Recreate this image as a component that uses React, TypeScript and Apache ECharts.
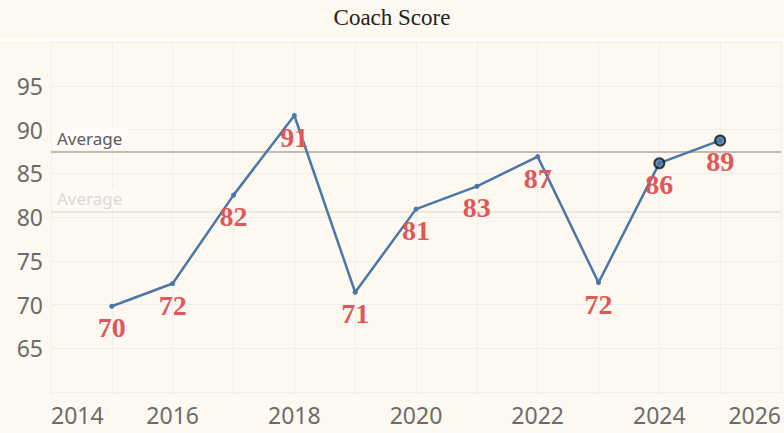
import React, { useEffect, useRef } from "react";
import * as echarts from "echarts";

const years = [2015, 2016, 2017, 2018, 2019, 2020, 2021, 2022, 2023, 2024, 2025];
const scores = [69.8, 72.4, 82.5, 91.6, 71.4, 80.9, 83.5, 86.9, 72.5, 86.15, 88.75];
const scoreLabels = ["70", "72", "82", "91", "71", "81", "83", "87", "72", "86", "89"];
const highlightYears = [2024, 2025];
const highlightScores = [86.15, 88.75];
const title = "Coach Score";

const BG = "#fdf9f1";
const GRID = "#eeeeec";

export default function App() {
  const ref = useRef<HTMLDivElement>(null);
  useEffect(() => {
    if (!ref.current) return;
    const chart = echarts.init(ref.current, null, { renderer: "svg" });
    const mainData = years.map((y, i) => [y, scores[i]]);
    const hiData = highlightYears.map((y, i) => [y, highlightScores[i]]);
    chart.setOption({
      animation: false,
      backgroundColor: BG,
      title: {
        text: title,
        left: "center",
        top: 1,
        textStyle: {
          fontFamily: "Liberation Serif, serif",
          fontWeight: "normal",
          fontSize: 23,
          color: "#222",
        },
      },
      graphic: [
        { type: "rect", shape: { x: 0, y: 38, width: 784, height: 3 }, style: { fill: "#ffffff" }, silent: true },
      ],
      grid: { left: 51, right: 0, top: 42, bottom: 41 },
      xAxis: {
        type: "value",
        min: 2014,
        max: 2026,
        interval: 2,
        axisLine: { show: false },
        axisTick: { show: true, length: 3, lineStyle: { color: GRID } },
        minorTick: { show: true, splitNumber: 2, length: 3, lineStyle: { color: GRID } },
        splitLine: { show: true, lineStyle: { color: GRID, width: 1 } },
        minorSplitLine: { show: true, lineStyle: { color: GRID, width: 1 } },
        axisLabel: {
          formatter: (v: number) => String(v),
          fontFamily: "Noto Sans, sans-serif",
          fontSize: 23,
          color: "#6b6b6b",
          margin: 11,
          alignMinLabel: "left",
          alignMaxLabel: "right",
        },
      },
      yAxis: {
        type: "value",
        min: 60,
        max: 100,
        interval: 5,
        axisLine: { show: false },
        axisTick: { show: false },
        splitLine: { show: true, lineStyle: { color: GRID, width: 1 } },
        axisLabel: {
          showMinLabel: false,
          showMaxLabel: false,
          fontFamily: "Noto Sans, sans-serif",
          fontSize: 23,
          color: "#6b6b6b",
          margin: 8,
        },
      },
      series: [
        {
          type: "line",
          data: mainData,
          symbol: "circle",
          symbolSize: 5,
          z: 3,
          lineStyle: { color: "#4a77a8", width: 2.5 },
          itemStyle: { color: "#4a77a8" },
          label: {
            show: true,
            position: "bottom",
            distance: 5,
            formatter: (p: any) => scoreLabels[p.dataIndex],
            fontFamily: "Liberation Serif, serif",
            fontWeight: "bold",
            fontSize: 28,
            color: "#e05759",
          },
          markLine: {
            silent: true,
            symbol: "none",
            z: 1,
            data: [{ type: "average", name: "Average", valueDim: "y" }],
            lineStyle: { color: "#ebe7df", width: 2, type: "solid" },
            label: {
              position: "insideStartTop",
              formatter: "Average",
              fontFamily: "Noto Sans, sans-serif",
              fontSize: 17,
              color: "#dcd8d1",
              backgroundColor: "#fdfaf5",
              padding: [1, 5, 1, 5],
              distance: [1, 4],
            },
          },
        },
        {
          type: "scatter",
          data: hiData,
          symbol: "circle",
          symbolSize: 10,
          z: 4,
          itemStyle: { color: "#4a77a8", borderColor: "#111", borderWidth: 2 },
          markLine: {
            silent: true,
            symbol: "none",
            z: 1,
            data: [{ type: "average", name: "Average", valueDim: "y" }],
            lineStyle: { color: "#a9a59f", width: 1.5, type: "solid" },
            label: {
              position: "insideStartTop",
              formatter: "Average",
              fontFamily: "Noto Sans, sans-serif",
              fontSize: 17,
              color: "#5a5a5a",
              backgroundColor: "#fefcf8",
              padding: [1, 5, 1, 5],
              distance: [1, 4],
            },
          },
        },
      ],
    });
    return () => chart.dispose();
  }, []);
  return (
    <div
      ref={ref}
      style={{ position: "fixed", left: 0, top: 0, width: 784, height: 433 }}
    />
  );
}
